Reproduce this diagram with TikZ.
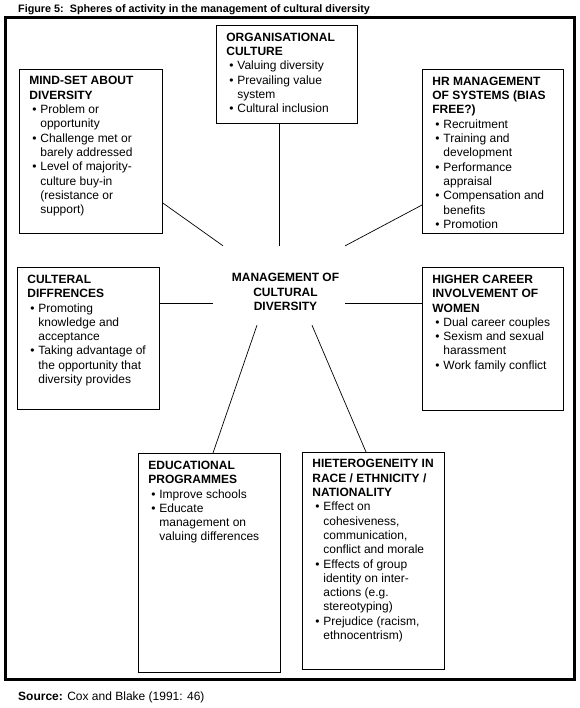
\documentclass[tikz,border=0pt]{standalone}
\usepackage{fontspec}
\setmainfont{Liberation Sans}
\newcommand{\bul}[1]{\par\hangindent=11bp\hangafter=1\makebox[11bp][l]{\hspace{3bp}\textbullet}#1}
\newcommand{\boxtext}[4]{\parbox[t][#2bp][t]{#1bp}{\fontsize{12bp}{14.3bp}\selectfont\leftskip=10bp\rightskip=0pt plus 1fil\parindent=0pt\parfillskip=0pt plus 1fil\hyphenpenalty=10000\rule{0pt}{#3bp}#4}}
\begin{document}
\begin{tikzpicture}[x=1bp,y=-1bp,
  sphere/.style={draw=black,line width=0.8bp,inner sep=0pt,anchor=north west},
  hub/.style={inner sep=0pt,minimum width=132bp,minimum height=79bp},
  ctext/.style={inner sep=0pt,align=center,font=\fontsize{12bp}{14.3bp}\selectfont\bfseries},
  conn/.style={draw=black,line width=0.7bp},
  frame/.style={draw=black,line width=3bp}]
\useasboundingbox (0,0) rectangle (580,708);

\node[anchor=base west,inner sep=0pt,font=\fontsize{10.8bp}{13bp}\selectfont\bfseries] (title) at (18,12.7) {Figure 5:\ \ Spheres of activity in the management of cultural diversity};
\draw[frame] (5.5,17.5) rectangle (574,679.5);

\node[sphere] (org) at (216,25) {\boxtext{141}{98}{16}{\textbf{ORGANISATIONAL\newline CULTURE}
\bul{Valuing diversity}
\bul{Prevailing value\newline system}
\bul{Cultural inclusion}}};

\node[sphere] (mind) at (19,69) {\boxtext{143}{164}{15.5}{\textbf{MIND-SET ABOUT\newline DIVERSITY}
\bul{Problem or\newline opportunity}
\bul{Challenge met or\newline barely addressed}
\bul{Level of majority-\newline culture buy-in\newline (resistance or\newline support)}}};

\node[sphere] (hr) at (422,69) {\boxtext{141}{164}{16}{\textbf{HR MANAGEMENT\newline OF SYSTEMS (BIAS\newline FREE?)}
\bul{Recruitment}
\bul{Training and\newline development}
\bul{Performance\newline appraisal}
\bul{Compensation and\newline benefits}
\bul{Promotion}}};

\node[sphere] (cult) at (17,267) {\boxtext{142}{142}{16}{\textbf{CULTERAL\newline DIFFRENCES}
\bul{Promoting\newline knowledge and\newline acceptance}
\bul{Taking advantage of\newline the opportunity that\newline diversity provides}}};

\node[sphere] (higher) at (422,267) {\boxtext{141}{143}{16}{\textbf{HIGHER CAREER\newline INVOLVEMENT OF\newline WOMEN}
\bul{Dual career couples}
\bul{Sexism and sexual\newline harassment}
\bul{Work family conflict}}};

\node[sphere] (educ) at (138,453) {\boxtext{142}{219}{16}{\textbf{EDUCATIONAL\newline PROGRAMMES}
\bul{Improve schools}
\bul{Educate\newline management on\newline valuing differences}}};

\node[sphere] (hetero) at (302,452) {\boxtext{142}{217}{15.5}{\textbf{HIETEROGENEITY IN\newline RACE / ETHNICITY /\newline NATIONALITY}
\bul{Effect on\newline cohesiveness,\newline communication,\newline conflict and morale}
\bul{Effects of group\newline identity on inter-\newline actions (e.g.\newline stereotyping)}
\bul{Prejudice (racism,\newline ethnocentrism)}}};

\node[hub,label={[ctext,xshift=6.5bp,yshift=-6.5bp]center:MANAGEMENT OF\\CULTURAL\\DIVERSITY}] (C) at (279,285.5) {};

\draw[conn] (mind.east |- 0,203) -- (C.north -| 223,0);
\draw[conn] (C.north |- org.south) -- (C.north);
\draw[conn] (hr.west |- 0,205) -- (C.north east);
\draw[conn] (cult.east |- 0,303) -- (C.west |- 0,303);
\draw[conn] (higher.west |- 0,303) -- (C.east |- 0,303);
\draw[conn] (educ.north -| 213,0) -- (C.south -| 257,0);
\draw[conn] (hetero.north -| 366,0) -- (C.south -| 312,0);

\node[anchor=base west,inner sep=0pt,font=\fontsize{12bp}{14bp}\selectfont] (src) at (18,700) {\textbf{Source:} Cox and Blake (1991: 46)};
\end{tikzpicture}
\end{document}
